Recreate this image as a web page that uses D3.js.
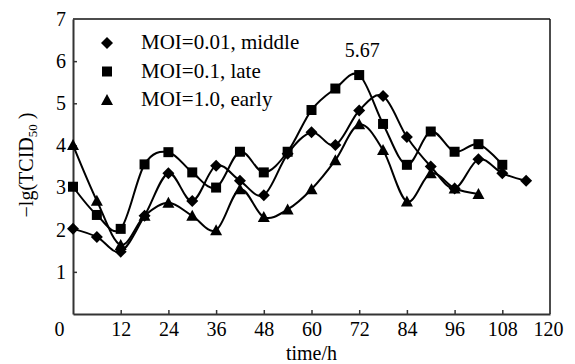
<!DOCTYPE html>
<html><head><meta charset="utf-8">
<script src="https://cdn.jsdelivr.net/npm/d3@7"></script>
<style>
html,body{margin:0;padding:0;background:#fff;}
svg{display:block;}
svg text{font-family:"Times New Roman",Times,"Liberation Serif","DejaVu Serif",serif !important;fill:#000;}
</style></head>
<body>
<svg id="chart" width="575" height="364"></svg>
<script>
// ---- data ----
const timesMiddle = [0,6,12,18,24,30,36,42,48,54,60,66,72,78,84,90,96,102,108,114];
const valuesMiddle = [2.02,1.83,1.48,2.33,3.34,2.68,3.52,3.16,2.82,3.8,4.31,4.01,4.83,5.17,4.2,3.5,2.98,3.67,3.34,3.16];
const timesLate = [0,6,12,18,24,30,36,42,48,54,60,66,72,78,84,90,96,102,108];
const valuesLate = [3.02,2.35,2.02,3.55,3.84,3.36,3.0,3.85,3.36,3.85,4.84,5.35,5.67,4.51,3.54,4.33,3.85,4.03,3.54];
const timesEarly = [0,6,12,18,24,30,36,42,48,54,60,66,72,78,84,90,96,102];
const valuesEarly = [4.01,2.69,1.64,2.33,2.64,2.33,1.99,2.96,2.3,2.48,2.96,3.65,4.5,3.89,2.67,3.34,2.98,2.85];
const seriesNames = ["MOI=0.01, middle","MOI=0.1, late","MOI=1.0, early"];
const xTicks = [0,12,24,36,48,60,72,84,96,108,120];
const yTicks = [1,2,3,4,5,6,7];
const peakLabel = "5.67";
const xTitle = "time/h";

// ---- layout ----
const FONT = '"Times New Roman", Times, "Liberation Serif", "DejaVu Serif", serif';
const svg = d3.select("#chart");
const L = 73, R = 550, T = 19, B = 314;
const x = d3.scaleLinear().domain([0,120]).range([L,R]);
const y = d3.scaleLinear().domain([0,7]).range([B,T]);

function markerPath(kind){
  if(kind==="diamond") return "M0,-6L6,0L0,6L-6,0Z";
  if(kind==="square") return "M-5,-5H5V5H-5Z";
  return "M0,-6L6,5L-6,5Z";
}
const kinds = ["diamond","square","triangle"];

// frame top/right
svg.append("line").attr("x1",L).attr("x2",R).attr("y1",T).attr("y2",T).attr("stroke","#111").attr("stroke-width",1.5);
svg.append("line").attr("x1",R).attr("x2",R).attr("y1",T).attr("y2",B).attr("stroke","#111").attr("stroke-width",1.5);

// axes
const xAxis = svg.append("g").attr("transform",`translate(0,${B})`)
  .call(d3.axisBottom(x).tickValues(xTicks).tickSizeInner(-4).tickSizeOuter(0).tickPadding(8).tickFormat(d3.format("d")));
xAxis.attr("font-family",FONT).attr("font-size",20);
xAxis.select(".domain").attr("stroke","#333").attr("stroke-width",2);
xAxis.selectAll(".tick line").attr("stroke","#333").attr("stroke-width",1.5);
xAxis.selectAll(".tick").filter(d=>d===0||d===120).select("line").remove();
xAxis.selectAll(".tick text").attr("fill","#000");
xAxis.selectAll(".tick").filter(d=>d===0).select("text").attr("dx",-14);
xAxis.selectAll(".tick").filter(d=>d===120).select("text").attr("dx",-2);

const yAxis = svg.append("g").attr("transform",`translate(${L},0)`)
  .call(d3.axisLeft(y).tickValues(yTicks).tickSizeInner(-4).tickSizeOuter(0).tickPadding(7).tickFormat(d3.format("d")));
yAxis.attr("font-family",FONT).attr("font-size",20);
yAxis.select(".domain").attr("stroke","#333").attr("stroke-width",2);
yAxis.selectAll(".tick line").attr("stroke","#333").attr("stroke-width",1.5);
yAxis.selectAll(".tick").filter(d=>d===7).select("line").remove();
yAxis.selectAll(".tick text").attr("fill","#000");

// axis titles
svg.append("text").attr("x",(L+R)/2).attr("y",360).attr("text-anchor","middle").attr("font-family",FONT).attr("font-size",20).text(xTitle);
const yt = svg.append("text").attr("transform",`translate(33,165) rotate(-90)`).attr("text-anchor","middle").attr("font-family",FONT).attr("font-size",20);
yt.append("tspan").text("\u2212lg(TCID");
yt.append("tspan").attr("font-size",13).attr("dy",4).text("50");
yt.append("tspan").attr("dy",-4).text(" )");

// series
const allSeries = [
  {t:timesMiddle, v:valuesMiddle},
  {t:timesLate, v:valuesLate},
  {t:timesEarly, v:valuesEarly}
];
const line = d3.line().x(d=>x(d[0])).y(d=>y(d[1])).curve(d3.curveCardinal.tension(0));
allSeries.forEach((s,i)=>{
  const pts = s.t.map((t,j)=>[t,s.v[j]]);
  svg.append("path").datum(pts).attr("d",line).attr("fill","none").attr("stroke","#000").attr("stroke-width",2);
  svg.append("g").selectAll("path").data(pts).join("path")
    .attr("transform",d=>`translate(${x(d[0])},${y(d[1])})`)
    .attr("d",markerPath(kinds[i])).attr("fill","#000");
});

// peak label
svg.append("text").attr("x",x(72)+3).attr("y",57).attr("text-anchor","middle").attr("font-family",FONT).attr("font-size",20).text(peakLabel);

// legend
seriesNames.forEach((n,i)=>{
  const cy = 43 + i*28.5;
  svg.append("path").attr("transform",`translate(107,${cy})`).attr("d",markerPath(kinds[i])).attr("fill","#000");
  svg.append("text").attr("x",141).attr("y",cy+6).attr("font-family",FONT).attr("font-size",21).text(n);
});
</script>
</body></html>
